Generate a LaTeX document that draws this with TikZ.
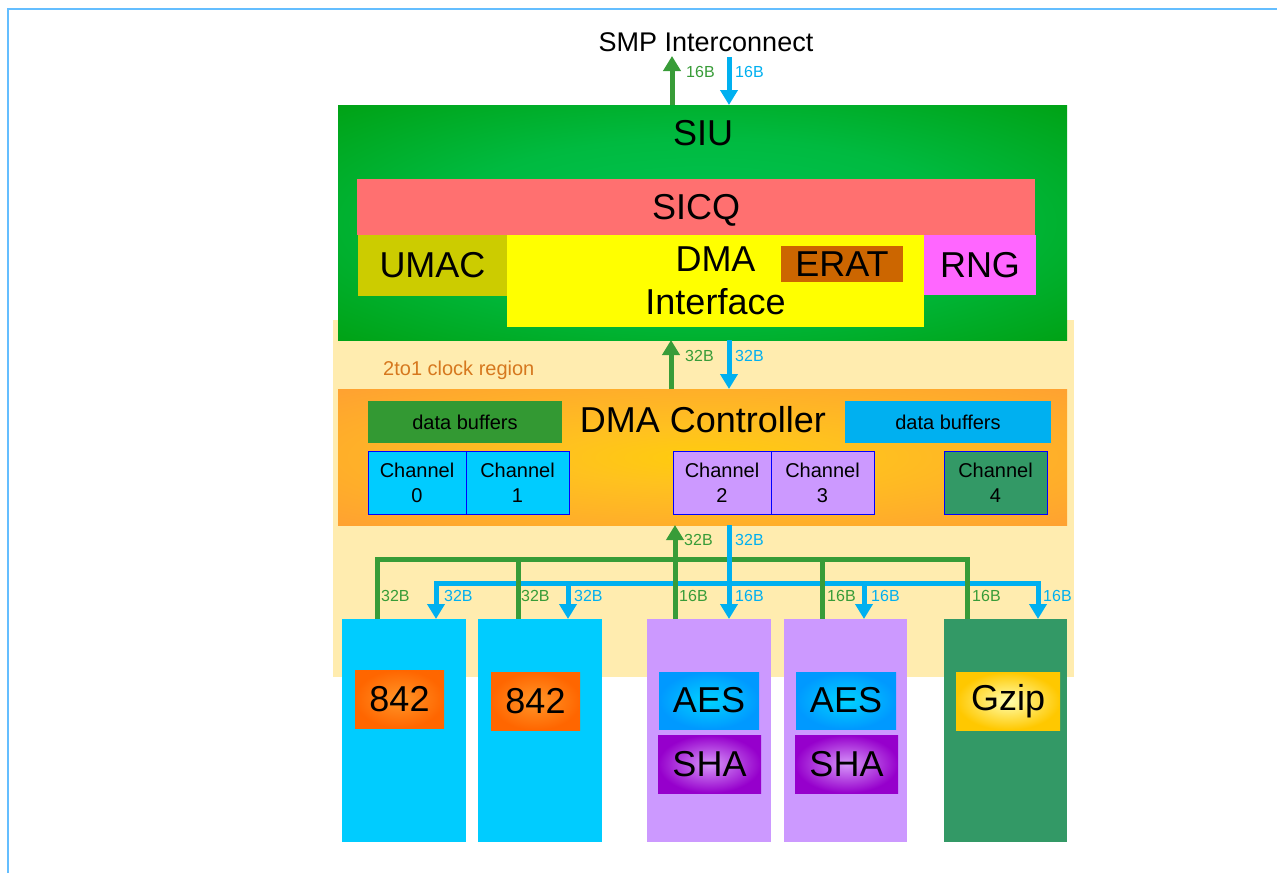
\documentclass[tikz,border=0pt]{standalone}
\usepackage{fontspec}
\setmainfont{Liberation Sans}
\usetikzlibrary{arrows.meta}
\definecolor{framec}{RGB}{100,190,255}
\definecolor{clockc}{RGB}{255,236,175}
\definecolor{cgreen}{RGB}{56,156,56}
\definecolor{cblue}{RGB}{0,176,240}
\definecolor{sicqc}{RGB}{255,112,112}
\definecolor{umacc}{RGB}{204,204,0}
\definecolor{dmaifc}{RGB}{255,255,0}
\definecolor{eratc}{RGB}{204,102,0}
\definecolor{rngc}{RGB}{255,102,255}
\definecolor{dbgreen}{RGB}{51,153,51}
\definecolor{chcyan}{RGB}{0,204,255}
\definecolor{chlav}{RGB}{204,153,255}
\definecolor{chgreen}{RGB}{51,153,102}
\definecolor{clocktxt}{RGB}{214,120,30}
\pgfdeclareradialshading{siushade}{\pgfpoint{0bp}{0bp}}{rgb(0bp)=(0,0.77,0.33); rgb(18bp)=(0,0.73,0.25); rgb(42bp)=(0,0.6,0.02); rgb(50bp)=(0,0.58,0)}
\pgfdeclareradialshading{dmashade}{\pgfpoint{0bp}{0bp}}{rgb(0bp)=(1,0.8,0.05); rgb(10bp)=(1,0.76,0.12); rgb(38bp)=(1,0.62,0.2); rgb(50bp)=(1,0.6,0.2)}
\tikzset{
  blk/.style={rectangle, inner sep=0pt, outer sep=0pt, align=center},
  big/.style={font=\fontsize{36}{43}\selectfont},
  mid/.style={font=\fontsize{20}{25}\selectfont},
  small/.style={font=\fontsize{16}{18}\selectfont, inner sep=0pt, anchor=west},
  chan/.style={blk, mid, draw=blue, line width=1pt, minimum height=63pt},
  garrow/.style={draw=cgreen, line width=5pt, -{Triangle[width=17pt,length=15pt]}},
  barrow/.style={draw=cblue, line width=5pt, -{Triangle[width=17pt,length=15pt]}},
  gline/.style={draw=cgreen, line width=5pt},
}
\begin{document}
\begin{tikzpicture}[x=1pt,y=-1pt]
\useasboundingbox (0,0) rectangle (1277,873);
\fill[white] (0,0) rectangle (1277,873);
\draw[framec, line width=2.5pt] (8,873) -- (8,9) -- (1277,9);

% clock region
\node[blk, fill=clockc, minimum width=741pt, minimum height=357pt] (clk) at (703.5,498.5) {};
\node[font=\fontsize{20}{24}\selectfont, text=clocktxt, inner sep=0pt, anchor=west] (clklab) at (383,370) {2to1 clock region};

% SMP
\node[font=\fontsize{27}{30}\selectfont, inner sep=0pt] (smp) at (706,42) {SMP Interconnect};

% SIU
\node[blk, shading=siushade, minimum width=729pt, minimum height=235pt] (siu) at (702.5,222.5) {};
\node[big, inner sep=0pt] (siulab) at (703,133) {SIU};
\node[blk, big, fill=sicqc, minimum width=678pt, minimum height=56pt, text depth=0pt] (sicq) at (696,207) {SICQ};
\node[blk, big, fill=umacc, minimum width=149pt, minimum height=61pt] (umac) at (432.5,265.5) {UMAC};
\node[blk, big, fill=dmaifc, minimum width=417pt, minimum height=92pt] (dmaif) at (715.5,281) {DMA\\Interface};
\node[blk, big, fill=eratc, minimum width=122pt, minimum height=36pt] (erat) at (842,264) {ERAT};
\node[blk, big, fill=rngc, minimum width=112pt, minimum height=60pt] (rng) at (980,265) {RNG};

% DMA controller
\node[blk, shading=dmashade, minimum width=729pt, minimum height=136pt] (dmac) at (702.5,457) {};
\node[big, inner sep=0pt] (dmaclab) at (703,420) {DMA Controller};
\node[blk, mid, fill=dbgreen, minimum width=194pt, minimum height=42pt] (dbg) at (465,422) {data buffers};
\node[blk, mid, fill=cblue, minimum width=206pt, minimum height=42pt] (dbb) at (948,422) {data buffers};
\node[chan, fill=chcyan, minimum width=98pt] (ch0) at (417,482.5) {Channel\\0};
\node[chan, fill=chcyan, minimum width=103pt] (ch1) at (517.5,482.5) {Channel\\1};
\node[chan, fill=chlav, minimum width=98pt] (ch2) at (722,482.5) {Channel\\2};
\node[chan, fill=chlav, minimum width=103pt] (ch3) at (822.5,482.5) {Channel\\3};
\node[chan, fill=chgreen, minimum width=103pt] (ch4) at (995.5,482.5) {Channel\\4};

% bottom engines
\node[blk, fill=chcyan, minimum width=124pt, minimum height=223pt] (b1) at (404,730.5) {};
\node[blk, fill=chcyan, minimum width=124pt, minimum height=223pt] (b2) at (540,730.5) {};
\node[blk, fill=chlav, minimum width=124pt, minimum height=223pt] (b3) at (709,730.5) {};
\node[blk, fill=chlav, minimum width=123pt, minimum height=223pt] (b4) at (845.5,730.5) {};
\node[blk, fill=chgreen, minimum width=123pt, minimum height=223pt] (b5) at (1005.5,730.5) {};

\tikzset{
  o842/.style={blk, big, inner color={rgb,255:red,255;green,150;blue,40}, outer color={rgb,255:red,255;green,102;blue,0}, minimum width=89pt, minimum height=58pt},
  aes/.style={blk, big, inner color={rgb,255:red,0;green,212;blue,255}, outer color={rgb,255:red,0;green,153;blue,255}, minimum width=100pt, minimum height=57pt},
  sha/.style={blk, big, inner color={rgb,255:red,215;green,150;blue,250}, outer color={rgb,255:red,150;green,0;blue,204}, minimum width=103pt, minimum height=58pt},
}
\node[o842] (e1) at (399.5,699) {842};
\node[o842] (e2) at (535.5,701) {842};
\node[aes] (aes1) at (709,700.5) {AES};
\node[sha] (sha1) at (709.5,764) {SHA};
\node[aes] (aes2) at (846,700.5) {AES};
\node[sha] (sha2) at (846.5,764) {SHA};
\node[blk, big, inner color={rgb,255:red,255;green,255;blue,175}, outer color={rgb,255:red,255;green,200;blue,0}, minimum width=104pt, minimum height=58pt] (gzip) at (1008,701) {Gzip};

% top arrows
\coordinate (g1) at (672,56);
\coordinate (bb1) at (729,57);
\draw[garrow] (g1 |- siu.north) -- (g1);
\draw[barrow] (bb1) -- (bb1 |- siu.north);
\node[small, text=cgreen] (l1) at (686,72) {16B};
\node[small, text=cblue] (l2) at (735,72) {16B};

% middle arrows
\coordinate (g2) at (671,0);
\coordinate (bb2) at (729,0);
\draw[garrow] (g2 |- dmac.north) -- (g2 |- siu.south);
\draw[barrow] (bb2 |- siu.south) -- (bb2 |- dmac.north);
\node[small, text=cgreen] (l3) at (685,356) {32B};
\node[small, text=cblue] (l4) at (735,356) {32B};

% bus
\coordinate (bl1) at (436,583);
\coordinate (bl2) at (568,583);
\coordinate (bl4) at (864,583);
\coordinate (bl5) at (1038,583);
\draw[draw=cblue, line width=5pt, {Triangle[width=17pt,length=15pt]}-{Triangle[width=17pt,length=15pt]}] (bl1 |- b1.north) -- (bl1) -- (bl5) -- (bl5 |- b5.north);
\draw[barrow] (bl2) -- (bl2 |- b2.north);
\draw[barrow] (bl4) -- (bl4 |- b4.north);

\coordinate (gl1) at (377,559);
\coordinate (gl2) at (518,559);
\coordinate (gl3) at (675,559);
\coordinate (gl4) at (822,559);
\coordinate (gl5) at (967,559);
\draw[gline] (gl1 |- b1.north) -- (gl1) -- (gl5) -- (gl5 |- b5.north);
\draw[gline] (gl2) -- (gl2 |- b2.north);
\draw[gline] (gl4) -- (gl4 |- b4.north);
\draw[garrow] (gl3 |- b3.north) -- (gl3 |- dmac.south);
\coordinate (bb3) at (729,0);
\draw[barrow] (bb3 |- dmac.south) -- (bb3 |- b3.north);

\node[small, text=cgreen] (l5) at (684,540) {32B};
\node[small, text=cblue] (l6) at (735,540) {32B};

\node[small, text=cgreen] (m1) at (381,596) {32B};
\node[small, text=cblue] (m2) at (444,596) {32B};
\node[small, text=cgreen] (m3) at (521,596) {32B};
\node[small, text=cblue] (m4) at (574,596) {32B};
\node[small, text=cgreen] (m5) at (679,596) {16B};
\node[small, text=cblue] (m6) at (735,596) {16B};
\node[small, text=cgreen] (m7) at (827,596) {16B};
\node[small, text=cblue] (m8) at (871,596) {16B};
\node[small, text=cgreen] (m9) at (972,596) {16B};
\node[small, text=cblue] (m10) at (1043,596) {16B};
\end{tikzpicture}
\end{document}
